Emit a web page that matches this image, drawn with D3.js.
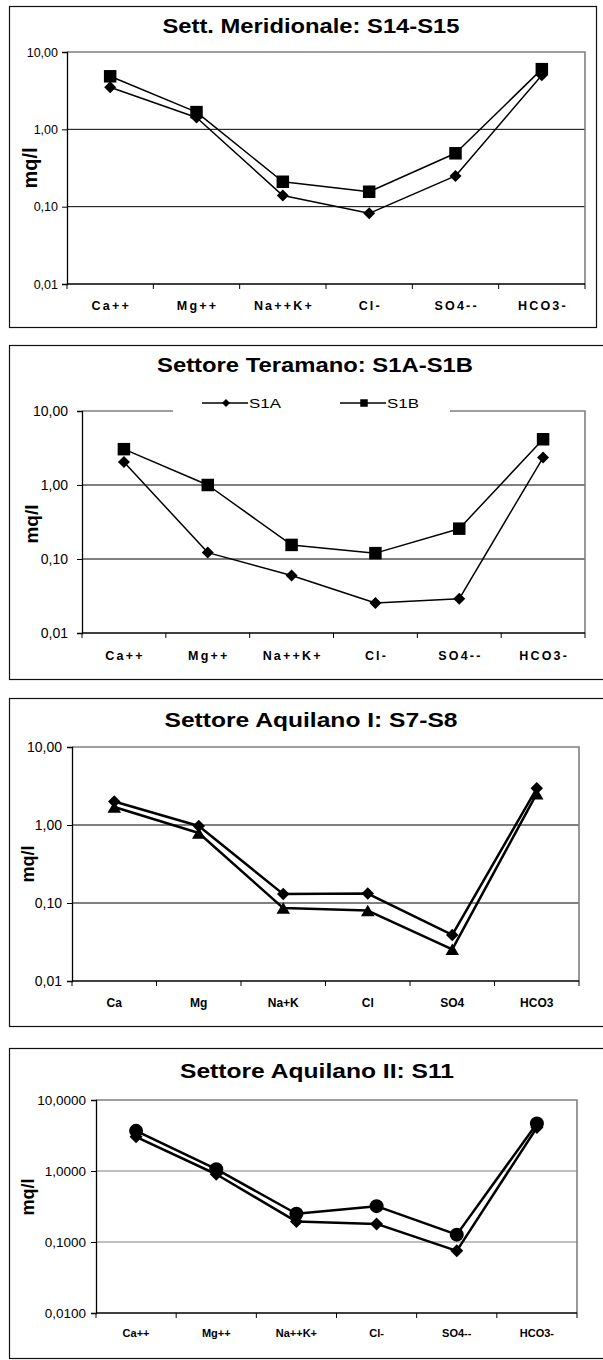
<!DOCTYPE html>
<html><head><meta charset="utf-8">
<script src="https://cdn.jsdelivr.net/npm/d3@7"></script>
<style>
html,body{margin:0;padding:0;background:#fff;}
svg{display:block;font-family:"Liberation Sans",Arial,sans-serif;}
</style></head>
<body>
<svg id="chart" width="603" height="1360"></svg>
<script>
// ---------- DATA ----------
const categoriesIons = ["Ca++","Mg++","Na++K+","Cl-","SO4--","HCO3-"];
const categoriesShort = ["Ca","Mg","Na+K","Cl","SO4","HCO3"];
const yTickValues = [0.01, 0.1, 1, 10];
const yTickLabels2 = ["0,01","0,10","1,00","10,00"];
const yTickLabels4 = ["0,0100","0,1000","1,0000","10,0000"];
const titles = ["Sett. Meridionale: S14-S15","Settore Teramano: S1A-S1B","Settore Aquilano I: S7-S8","Settore Aquilano II: S11"];
const yAxisTitle = "mq/l";
const legendNames2 = ["S1A","S1B"];

const s14 = [3.5, 1.42, 0.139, 0.082, 0.25, 5.0];
const s15 = [4.85, 1.67, 0.21, 0.156, 0.49, 6.0];
const s1A = [2.05, 0.122, 0.060, 0.0254, 0.029, 2.35];
const s1B = [3.05, 1.0, 0.155, 0.12, 0.257, 4.15];
const s7 = [2.0, 0.97, 0.13, 0.132, 0.039, 2.95];
const s8 = [1.7, 0.79, 0.086, 0.080, 0.0255, 2.52];
const s11a = [3.03, 0.90, 0.194, 0.18, 0.075, 4.1];
const s11b = [3.68, 1.06, 0.25, 0.32, 0.127, 4.68];

// ---------- MARKERS ----------
const symDiamond = {draw(c,s){const r=Math.sqrt(s)/2;c.moveTo(0,-r);c.lineTo(r,0);c.lineTo(0,r);c.lineTo(-r,0);c.closePath();}};
const symSquare = {draw(c,s){const r=Math.sqrt(s)/2;c.rect(-r,-r,2*r,2*r);}};
const symTriangle = {draw(c,s){const w=Math.sqrt(s),h=w*0.85;c.moveTo(0,-h/2);c.lineTo(w/2,h/2);c.lineTo(-w/2,h/2);c.closePath();}};
const symCircle = {draw(c,s){const r=Math.sqrt(s)/2;c.moveTo(r,0);c.arc(0,0,r,0,2*Math.PI);}};

// ---------- LAYOUT ----------
const panels = [
  {box:[9,6,596,327], L:67,R:585,T:52,B:284, title:titles[0], tX:311, tY:33, tW:297,
   cats:categoriesIons, ls:2.2, xfs:12.5, xlY:310, ylab:yTickLabels2, yfs:12.5, yoff:9,
   ax:{x:30,y:168,fs:20}, grid:"#000", lw:1.5,
   series:[{v:s14,sym:symDiamond,sz:12},{v:s15,sym:symSquare,sz:12.5}]},
  {box:[9,345,620,679], L:82,R:585,T:411,B:633, title:titles[1], tX:315, tY:372, tW:316,
   cats:categoriesIons, ls:2.2, xfs:12.5, xlY:660, ylab:yTickLabels2, yfs:14, yoff:14,
   ax:{x:31,y:524,fs:19}, grid:"#000", lw:1.5, legend:true,
   series:[{v:s1A,sym:symDiamond,sz:12},{v:s1B,sym:symSquare,sz:12.5}]},
  {box:[9,698,620,1026], L:72,R:579,T:747,B:981, title:titles[2], tX:311, tY:727, tW:293,
   cats:categoriesShort, ls:0, xfs:12, xlY:1007, ylab:yTickLabels2, yfs:14, yoff:10,
   ax:{x:28,y:864,fs:18}, grid:"#000", lw:2.5,
   series:[{v:s7,sym:symDiamond,sz:12.5},{v:s8,sym:symTriangle,sz:13.5}]},
  {box:[9,1048,620,1358], L:96,R:577,T:1100,B:1313, title:titles[3], tX:317, tY:1078, tW:274,
   cats:categoriesIons, ls:0, xfs:11, xlY:1337, ylab:yTickLabels4, yfs:13.5, yoff:10,
   ax:{x:28,y:1197,fs:18}, grid:"#808080", lw:2.5,
   series:[{v:s11a,sym:symDiamond,sz:13},{v:s11b,sym:symCircle,sz:14}]}
];

const svg = d3.select("#chart");

panels.forEach(p => {
  const g = svg.append("g");
  // panel border
  g.append("rect").attr("x",p.box[0]+0.5).attr("y",p.box[1]+0.5)
    .attr("width",p.box[2]-p.box[0]).attr("height",p.box[3]-p.box[1])
    .attr("fill","#fff").attr("stroke","#111").attr("stroke-width",1.2);

  const x = d3.scaleBand().domain(p.cats).range([p.L,p.R]).padding(0);
  const y = d3.scaleLog().domain([0.01,10]).range([p.B,p.T]);

  // gridlines
  g.append("g").selectAll("line").data([0.1,1]).join("line")
    .attr("x1",p.L).attr("x2",p.R).attr("y1",d=>y(d)).attr("y2",d=>y(d))
    .attr("stroke",p.grid).attr("stroke-width",1);

  // plot area border top/right (gray)
  g.append("path").attr("d",`M${p.L},${y(10)}H${p.R}V${y(0.01)}`)
    .attr("fill","none").attr("stroke","#808080").attr("stroke-width",1.6);

  // left axis
  const yAxis = d3.axisLeft(y).tickValues(yTickValues)
    .tickFormat((d,i)=>p.ylab[i]).tickSize(5).tickPadding(p.yoff-5);
  const ya = g.append("g").attr("transform",`translate(${p.L},0)`).call(yAxis);
  ya.select(".domain").attr("stroke","#000").attr("stroke-width",1.3);
  ya.selectAll(".tick line").attr("stroke","#000");
  ya.selectAll("text").attr("font-family","Liberation Sans, Arial, sans-serif")
    .attr("font-size",p.yfs).attr("fill","#000");

  // bottom axis: boundary ticks
  const bounds = p.cats.map(c=>x(c)).concat([x.range()[1]]);
  g.append("line").attr("x1",p.L).attr("x2",p.R).attr("y1",p.B).attr("y2",p.B)
    .attr("stroke","#000").attr("stroke-width",1.3);
  g.append("g").selectAll("line").data(bounds).join("line")
    .attr("x1",d=>d).attr("x2",d=>d).attr("y1",p.B).attr("y2",p.B+5)
    .attr("stroke","#000").attr("stroke-width",1);
  // bottom labels
  g.append("g").selectAll("text").data(p.cats).join("text")
    .attr("x",d=>x(d)+x.bandwidth()/2 + p.ls/2).attr("y",p.xlY)
    .attr("text-anchor","middle").attr("font-weight","bold")
    .attr("font-size",p.xfs).attr("letter-spacing",p.ls).attr("fill","#000")
    .text(d=>d);

  // y axis title
  g.append("text").attr("transform",`translate(${p.ax.x},${p.ax.y}) rotate(-90)`)
    .attr("text-anchor","middle").attr("dominant-baseline","central")
    .attr("font-weight","bold").attr("font-size",p.ax.fs).text(yAxisTitle);

  // title
  g.append("text").attr("x",p.tX).attr("y",p.tY).attr("text-anchor","middle")
    .attr("font-weight","bold").attr("font-size",21)
    .attr("textLength",p.tW).attr("lengthAdjust","spacingAndGlyphs").text(p.title);

  // series
  const line = d3.line().x((d,i)=>x(p.cats[i])+x.bandwidth()/2).y(d=>y(d));
  p.series.forEach(s => {
    g.append("path").datum(s.v).attr("d",line).attr("fill","none")
      .attr("stroke","#000").attr("stroke-width",p.lw).attr("stroke-linejoin","round");
  });
  p.series.forEach(s => {
    g.append("g").selectAll("path").data(s.v).join("path")
      .attr("transform",(d,i)=>`translate(${x(p.cats[i])+x.bandwidth()/2},${y(d)})`)
      .attr("d",d3.symbol().type(s.sym).size(s.sz*s.sz)).attr("fill","#000");
  });

  // legend (panel 2)
  if (p.legend) {
    const lg = g.append("g");
    lg.append("rect").attr("x",173).attr("y",390).attr("width",277).attr("height",24).attr("fill","#fff");
    const items = [{x1:202,sym:symDiamond,sz:8},{x1:340,sym:symSquare,sz:7.5}];
    items.forEach((it,i)=>{
      lg.append("line").attr("x1",it.x1).attr("x2",it.x1+46).attr("y1",403).attr("y2",403)
        .attr("stroke","#000").attr("stroke-width",1.3);
      lg.append("path").attr("transform",`translate(${it.x1+24},403)`)
        .attr("d",d3.symbol().type(it.sym).size(it.sz*it.sz)).attr("fill","#000");
      lg.append("text").attr("x",it.x1+47).attr("y",407.5).attr("font-size",12.5)
        .attr("textLength",32).attr("lengthAdjust","spacingAndGlyphs").text(legendNames2[i]);
    });
  }
});
</script>
</body></html>
